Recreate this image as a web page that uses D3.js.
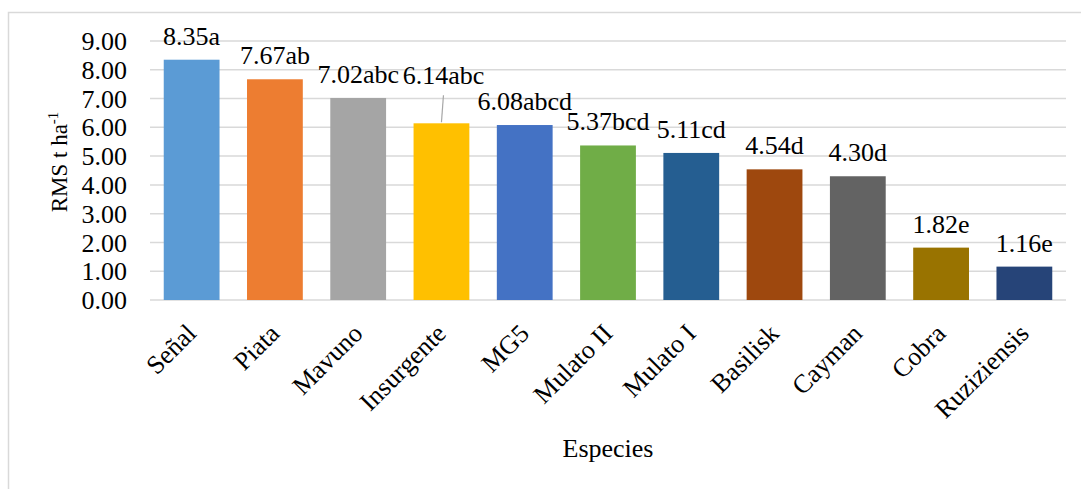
<!DOCTYPE html>
<html>
<head>
<meta charset="utf-8">
<script src="https://cdn.jsdelivr.net/npm/d3@7"></script>
<style>
  html, body { margin: 0; padding: 0; background: #fff; }
  svg { display: block; }
  svg text { font-family: "Liberation Serif", "Times New Roman", serif !important; fill: #000; }
</style>
</head>
<body>
<svg id="chart" width="1081" height="489"></svg>
<script>
// Forage species and their dry-matter yield (t/ha) with significance letters
const species = ["Señal", "Piata", "Mavuno", "Insurgente", "MG5", "Mulato II",
                 "Mulato I", "Basilisk", "Cayman", "Cobra", "Ruziziensis"];
const yields  = [8.35, 7.67, 7.02, 6.14, 6.08, 5.37, 5.11, 4.54, 4.30, 1.82, 1.16];
const letters = ["a", "ab", "abc", "abc", "abcd", "bcd", "cd", "d", "d", "e", "e"];
const colors  = ["#5B9BD5", "#ED7D31", "#A5A5A5", "#FFC000", "#4472C4", "#70AD47",
                 "#255E91", "#9E480E", "#636363", "#997300", "#264478"];
const yTicks  = [0, 1, 2, 3, 4, 5, 6, 7, 8, 9];

const svg = d3.select("#chart");
const W = 1081, H = 489;
const plot = { left: 150, right: 1066, top: 41, bottom: 300 };
const FS = 26;

// outer frame
svg.append("rect")
  .attr("x", 8.5).attr("y", 12.5)
  .attr("width", W + 10).attr("height", H + 10)
  .attr("fill", "none").attr("stroke", "#d9d9d9").attr("stroke-width", 1.5);

const x = d3.scaleBand()
  .domain(species)
  .range([plot.left, plot.right])
  .paddingInner(0.33)
  .paddingOuter(0.165);

const y = d3.scaleLinear()
  .domain([0, 9])
  .range([plot.bottom, plot.top]);

// horizontal gridlines
svg.append("g")
  .selectAll("line")
  .data(yTicks)
  .join("line")
  .attr("x1", plot.left).attr("x2", plot.right)
  .attr("y1", d => y(d)).attr("y2", d => y(d))
  .attr("stroke", "#d9d9d9").attr("stroke-width", 1.5);

// y axis labels
const yAxis = svg.append("g")
  .attr("transform", `translate(${plot.left},0)`)
  .call(d3.axisLeft(y).tickValues(yTicks).tickFormat(d3.format(".2f")).tickSize(0).tickPadding(23));
yAxis.attr("font-family", null).attr("font-size", null);
yAxis.select(".domain").remove();
yAxis.selectAll("text")
  .attr("font-size", FS)
  .attr("fill", "#000")
  .attr("dy", "0.33em");

// bars
svg.append("g")
  .selectAll("rect")
  .data(species)
  .join("rect")
  .attr("x", d => x(d))
  .attr("width", x.bandwidth())
  .attr("y", (d, i) => y(yields[i]))
  .attr("height", (d, i) => y(0) - y(yields[i]))
  .attr("fill", (d, i) => colors[i]);

// value labels; Insurgente's label is lifted and joined to its bar by a leader line
const lifted = { 3: 24 };
const labels = svg.append("g");
species.forEach((s, i) => {
  const cx = x(s) + x.bandwidth() / 2;
  const top = y(yields[i]);
  const lift = lifted[i] || 0;
  const base = top - 15 - lift;
  labels.append("text")
    .attr("x", cx + (lift ? 2 : 0))
    .attr("y", base)
    .attr("text-anchor", "middle")
    .attr("font-size", FS)
    .text(yields[i].toFixed(2) + letters[i]);
  if (lift) {
    labels.append("line")
      .attr("x1", cx + 2).attr("y1", base + 11)
      .attr("x2", cx).attr("y2", top - 1)
      .attr("stroke", "#a6a6a6").attr("stroke-width", 1.2);
  }
});

// category labels, rotated
svg.append("g")
  .selectAll("text")
  .data(species)
  .join("text")
  .attr("transform", d => `translate(${x(d) + x.bandwidth() / 2 + 6},${plot.bottom + 35}) rotate(-45)`)
  .attr("text-anchor", "end")
  .attr("font-size", FS)
  .text(d => d);

// axis titles
svg.append("text")
  .attr("x", (plot.left + plot.right) / 2)
  .attr("y", 457)
  .attr("text-anchor", "middle")
  .attr("font-size", FS)
  .text("Especies");

const yt = svg.append("text")
  .attr("transform", "translate(67,162) rotate(-90)")
  .attr("text-anchor", "middle")
  .attr("font-size", 23);
yt.append("tspan").text("RMS t ha");
yt.append("tspan").attr("font-size", 15).attr("dy", -9).text("-1");
</script>
</body>
</html>
